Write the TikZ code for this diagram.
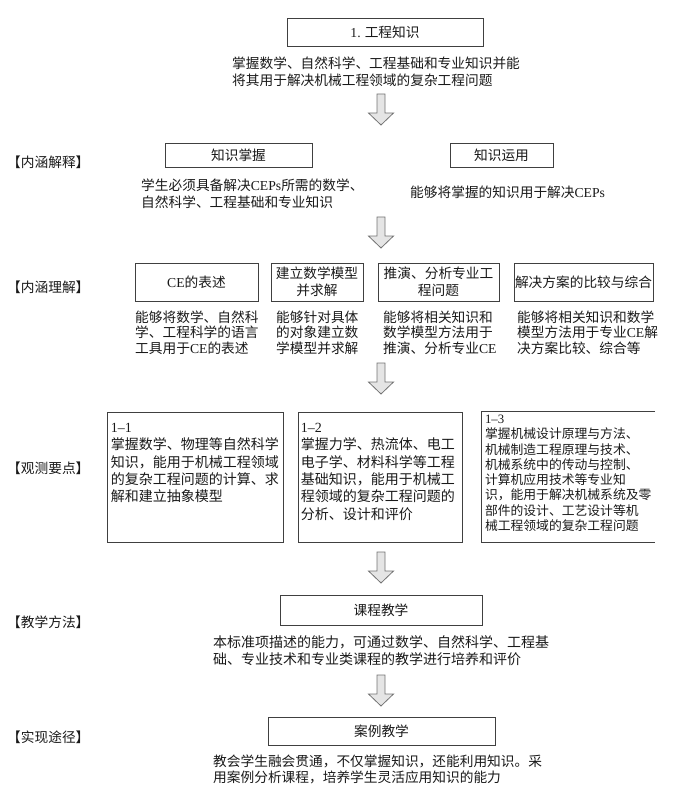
\documentclass[tikz,border=0pt]{standalone}
\usepackage{fontspec}
\setmainfont{Noto Sans CJK SC}
\newfontfamily\enfont{Liberation Serif}
\newcommand\en[1]{{\enfont #1}}
\newcommand\fs{\fontsize{13.7}{17}\selectfont}
\newcommand\fsw{\fontsize{14}{17.3}\selectfont}
\newcommand\fsn{\fontsize{13.7}{15.5}\selectfont}
\newcommand\fst{\fontsize{12.8}{15.3}\selectfont}

\begin{document}
\begin{tikzpicture}[x=1pt, y=-1pt, text=black!90,
box/.style={draw=black!75, line width=0.9pt, inner sep=0pt, align=center, font=\fs},
txt/.style={anchor=north west, inner sep=0pt, align=left, font=\fs},
lbl/.style={anchor=west, inner sep=0pt, font=\fs},
pics/bigarrow/.style={code={\draw[draw=black!55, fill=black!10, line width=0.8pt] (-4,0) -- (4,0) -- (4,19) -- (12.5,19) -- (0,31) -- (-12.5,19) -- (-4,19) -- cycle;}}]
\useasboundingbox (0,0) rectangle (677,794);
% left labels
\node[lbl] (lbljs) at (7,162) {【内涵解释】};
\node[lbl] (lbllj) at (7,287) {【内涵理解】};
\node[lbl] (lblgc) at (7,468) {【观测要点】};
\node[lbl] (lblff) at (7,622) {【教学方法】};
\node[lbl] (lbltj) at (7,737) {【实现途径】};
% block arrows
\foreach \y in {94,217,363,552,675}
  \pic at (381,\y) {bigarrow};
% 1. engineering knowledge
\node[box, minimum width=196, minimum height=28] (gczs) at (385,32) {\en{1.} 工程知识};
\node[txt] (gczst) at (232,56.5) {掌握数学、自然科学、工程基础和专业知识并能\\将其用于解决机械工程领域的复杂工程问题};
% meaning
\node[box, minimum width=147, minimum height=24] (zszw) at (238.5,155) {知识掌握};
\node[box, minimum width=103, minimum height=24] (zsyy) at (501.5,155) {知识运用};
\node[txt] (zszwt) at (141,178.5) {学生必须具备解决\en{CEPs}所需的数学、\\自然科学、工程基础和专业知识};
\node[txt] (zsyyt) at (410,185.5) {能够将掌握的知识用于解决\en{CEPs}};
% understanding
\node[box, minimum width=123, minimum height=38] (ceby) at (196.5,282) {\en{CE}的表述};
\node[box, minimum width=92, minimum height=38] (jlmx) at (317,282) {建立数学模型\\并求解};
\node[box, minimum width=121, minimum height=38] (tyfx) at (438.5,282) {推演、分析专业工\\程问题};
\node[box, minimum width=139, minimum height=38] (fabj) at (583.5,282) {解决方案的比较与综合};
\node[txt, font=\fsn] (cebyt) at (135,310.5) {能够将数学、自然科\\学、工程科学的语言\\工具用于\en{CE}的表述};
\node[txt, font=\fsn] (jlmxt) at (276,310.5) {能够针对具体\\的对象建立数\\学模型并求解};
\node[txt, font=\fsn] (tyfxt) at (383,310.5) {能够将相关知识和\\数学模型方法用于\\推演、分析专业\en{CE}};
\node[txt, font=\fsn] (fabjt) at (517,310.5) {能够将相关知识和数学\\模型方法用于专业\en{CE}解\\决方案比较、综合等};
% observation points
\node[box, minimum width=176, minimum height=130] (yd1) at (195,477) {};
\node[box, minimum width=164, minimum height=130] (yd2) at (380,477) {};
\node[minimum width=173, minimum height=130, inner sep=0pt] (yd3) at (568.5,477) {};
\draw[black!75, line width=0.9pt] (yd3.north east) -- (yd3.north west) -- (yd3.south west) -- (yd3.south east);
\node[txt, font=\fsw] (yd1t) at ([xshift=4pt, yshift=-11.5pt]yd1.north west) {\en{1–1}\\掌握数学、物理等自然科学\\知识，能用于机械工程领域\\的复杂工程问题的计算、求\\解和建立抽象模型};
\node[txt, font=\fsw] (yd2t) at ([xshift=3pt, yshift=-11.5pt]yd2.north west) {\en{1–2}\\掌握力学、热流体、电工\\电子学、材料科学等工程\\基础知识，能用于机械工\\程领域的复杂工程问题的\\分析、设计和评价};
\node[txt, font=\fst] (yd3t) at ([xshift=3pt, yshift=-3pt]yd3.north west) {\en{1–3}\\掌握机械设计原理与方法、\\机械制造工程原理与技术、\\机械系统中的传动与控制、\\计算机应用技术等专业知\\识，能用于解决机械系统及零\\部件的设计、工艺设计等机\\械工程领域的复杂工程问题};
% teaching
\node[box, minimum width=202, minimum height=30] (kcjx) at (381,610) {课程教学};
\node[txt, font=\fsw] (kcjxt) at (213,635) {本标准项描述的能力，可通过数学、自然科学、工程基\\础、专业技术和专业类课程的教学进行培养和评价};
\node[box, minimum width=227, minimum height=28] (aljx) at (381.5,731) {案例教学};
\node[txt, font=\fsn] (aljxt) at (213,755) {教会学生融会贯通，不仅掌握知识，还能利用知识。采\\用案例分析课程，培养学生灵活应用知识的能力};
\end{tikzpicture}
\end{document}
